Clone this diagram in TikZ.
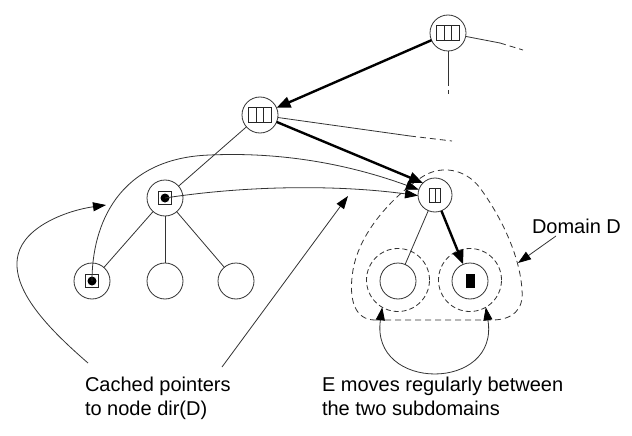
\documentclass[tikz,border=0pt]{standalone}
\usepackage{fontspec}
\setmainfont{Liberation Sans}
\usetikzlibrary{arrows.meta}
\begin{document}
\begin{tikzpicture}[x=1pt,y=-1pt,
  every node/.style={inner sep=0pt,outer sep=0pt},
  nd/.style={circle,draw=black!80,line width=0.8pt,minimum size=36pt},
  dcirc/.style={circle,draw=black!80,line width=0.8pt,minimum size=63pt,dash pattern=on 5pt off 3pt},
  ln/.style={draw=black!80,line width=0.8pt},
  dsh/.style={draw=black!80,line width=0.8pt,dash pattern=on 6pt off 4pt},
  thk/.style={draw=black,line width=2.4pt,-{Triangle[length=14pt,width=11pt]}},
  tarr/.style={draw=black!80,line width=0.8pt,-{Triangle[length=13pt,width=9pt,color=black]}},
  lbl/.style={font=\fontsize{20}{24}\selectfont,align=left,anchor=north west},
  threecell/.pic={\draw[line width=0.7pt,black!85] (-11.5,-7.5) rectangle (11.5,7.5) (-3.8,-7.5)--(-3.8,7.5) (3.8,-7.5)--(3.8,7.5);},
  twocell/.pic={\draw[line width=0.7pt,black!85] (-5.5,-7) rectangle (5.5,7) (0,-7)--(0,7);},
  dotbox/.pic={\draw[line width=0.7pt,black!85] (-6.5,-6.5) rectangle (6.5,6.5); \fill (0,0) circle (4.5);},
  blk/.pic={\fill (-4.5,-7) rectangle (4.5,7);}
]
\useasboundingbox (0,0) rectangle (632,436);

% nodes
\node[nd] (T) at (448,33) {};
\node[nd] (A) at (260,115) {};
\node[nd,minimum size=34pt] (B) at (435,195) {};
\node[nd] (C) at (165,198) {};
\node[nd] (L1) at (92,281) {};
\node[nd] (L2) at (165,281) {};
\node[nd] (L3) at (236,281) {};
\node[nd] (R1) at (398,281) {};
\node[nd] (R2) at (470,281) {};
\node[dcirc] (D1) at (398,280) {};
\node[dcirc] (D2) at (470,280) {};

\pic at (T) {threecell};
\pic at (A) {threecell};
\pic at (B) {twocell};
\pic at (C) {dotbox};
\pic at (L1) {dotbox};
\pic at (R2) {blk};

% domain D
\draw[dsh] (375,320) -- (492,320)
  .. controls (512,320) and (524,310) .. (522,290)
  .. controls (520,255) and (500,215) .. (480,188)
  .. controls (465,168) and (440,165) .. (422,177)
  .. controls (395,195) and (360,230) .. (353,270)
  .. controls (348,300) and (355,320) .. (375,320);

% tails
\coordinate (t1) at (500,43); \coordinate (t2) at (523,50);
\draw[ln] (T) -- (t1); \draw[dsh] (t1) -- (t2);
\coordinate (t3) at (448,80); \coordinate (t4) at (448,94);
\draw[ln] (T) -- (t3); \draw[dsh] (t3) -- (t4);
\coordinate (a1) at (410,136); \coordinate (a2) at (452,141);
\draw[ln] (A) -- (a1); \draw[dsh] (a1) -- (a2);

% tree edges
\draw[thk] (T) -- (A);
\draw[thk] (A) -- (B.135);
\draw[ln] (A) -- (C);
\draw[ln] (C) -- (L1);
\draw[ln] (C) -- (L2);
\draw[ln] (C) -- (L3);
\draw[ln] (B) -- (R1);
\draw[thk] (B) -- (R2);

% cached pointers
\draw[tarr] (L1.center) .. controls (92,225) and (118,158) .. (210,155)
  .. controls (300,151) and (370,172) .. (B.162);
\draw[tarr] (C.center) .. controls (250,185) and (340,185) .. (B.182);

% labels
\node[lbl] (cap) at (85,377) {Cached pointers\\to node dir(D)};
\node[lbl] (emv) at (322,377) {E moves regularly between\\the two subdomains};
\node[font=\fontsize{20}{24}\selectfont,anchor=base west] (dom) at (532,233) {Domain D};

\coordinate (cp1) at (88,363); \coordinate (cpt1) at (106,205);
\coordinate (cp2) at (222,367); \coordinate (cpt2) at (348,196);
\draw[tarr] (cp1) .. controls (50,330) and (10,290) .. (18,255)
  .. controls (25,225) and (70,210) .. (cpt1);
\draw[tarr] (cp2) -- (cpt2);

\coordinate (dm1) at (556,236); \coordinate (dm2) at (518,263);
\draw[tarr] (dm1) -- (dm2);

% loop between subdomains
\draw[ln,{Triangle[length=13pt,width=9pt,color=black]}-{Triangle[length=13pt,width=9pt,color=black]}]
  (D1.240) .. controls (370,392) and (500,392) .. (D2.300);
\end{tikzpicture}
\end{document}
